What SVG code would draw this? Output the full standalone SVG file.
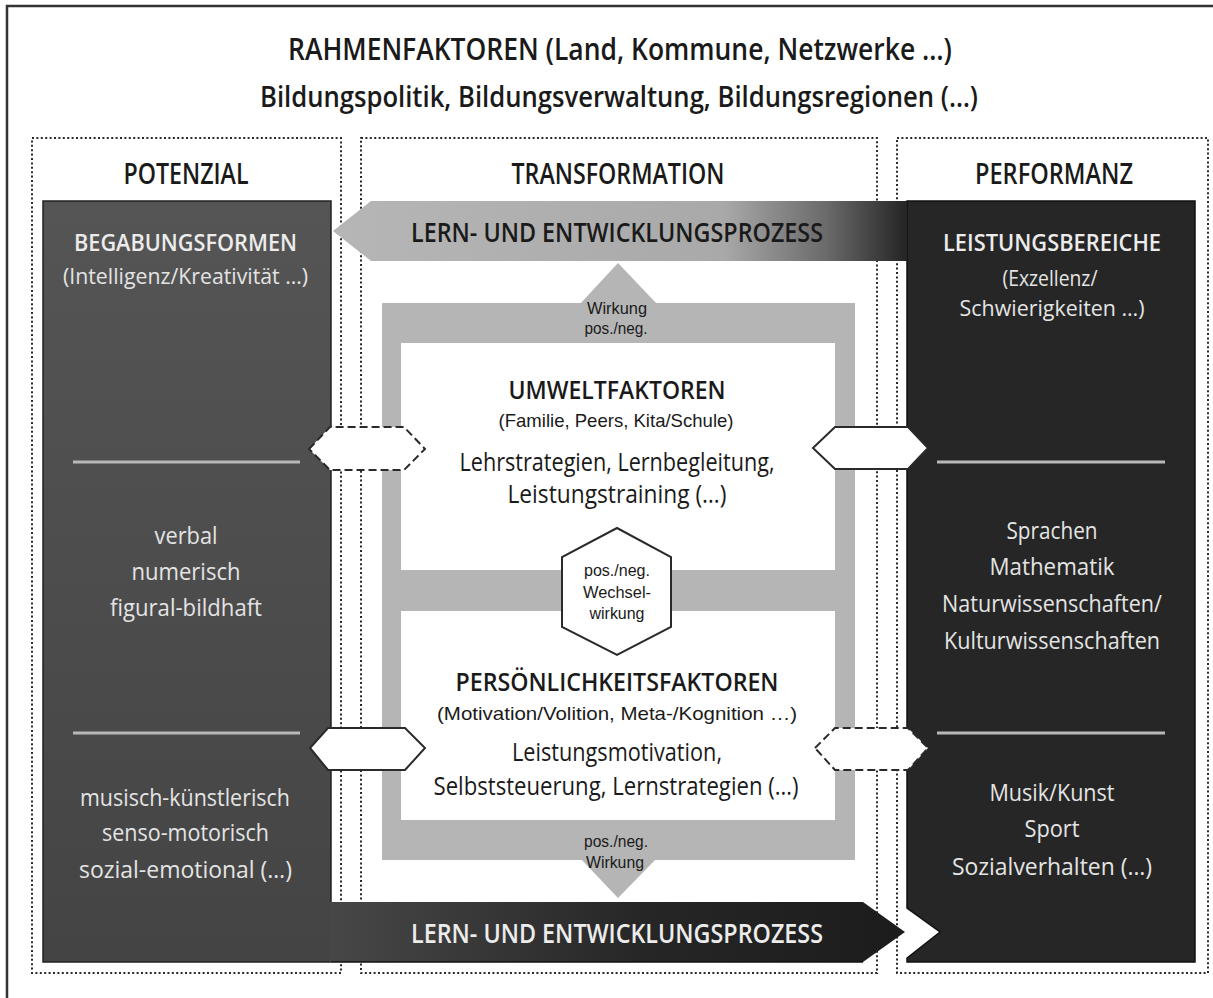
<svg xmlns="http://www.w3.org/2000/svg" width="1213" height="998" viewBox="0 0 1213 998">
<defs>
<style>
text{font-family:"Open Sans","Liberation Sans",sans-serif;text-anchor:middle;}
.h{font-weight:600;fill:#1a1a1a;}
.d{fill:#1a1a1a;}
.p{font-family:"Liberation Sans","Open Sans",sans-serif;fill:#1a1a1a;}
.l{fill:#e4e4e4;}
.lb{fill:#ececec;font-weight:600;}
.dot{fill:none;stroke:#2a2a2a;stroke-width:2;stroke-dasharray:2 2.4;}
.sep{stroke:#b8b8b8;stroke-width:3;}
.hx{fill:#fff;stroke:#2a2a2a;stroke-width:2;}
.hxd{fill:#fff;stroke:#2a2a2a;stroke-width:2;stroke-dasharray:8 4;}
.gr{fill:#b5b5b5;}
.sm{font-family:"Liberation Sans","Open Sans",sans-serif;font-size:16px;fill:#1a1a1a;}
</style>
<linearGradient id="gLeft" x1="0" y1="0" x2="0" y2="1">
<stop offset="0" stop-color="#555"/>
<stop offset="1" stop-color="#444"/>
</linearGradient>
<linearGradient id="gTop" gradientUnits="userSpaceOnUse" x1="333" y1="0" x2="907" y2="0">
<stop offset="0" stop-color="#b6b6b6"/>
<stop offset="0.68" stop-color="#a9a9a9"/>
<stop offset="0.86" stop-color="#6a6a6a"/>
<stop offset="1" stop-color="#242424"/>
</linearGradient>
<linearGradient id="gBot" gradientUnits="userSpaceOnUse" x1="331" y1="0" x2="905" y2="0">
<stop offset="0" stop-color="#474747"/>
<stop offset="0.55" stop-color="#262626"/>
<stop offset="1" stop-color="#1c1c1c"/>
</linearGradient>
</defs>
<rect width="1213" height="998" fill="#fff"/>
<rect x="7" y="6" width="1222" height="1010" fill="none" stroke="#333" stroke-width="2.5"/>

<g id="title">
<text class="h" x="620" y="60" font-size="31" textLength="664" lengthAdjust="spacingAndGlyphs">RAHMENFAKTOREN (Land, Kommune, Netzwerke …)</text>
<text class="h" x="619" y="107" font-size="28" textLength="718" lengthAdjust="spacingAndGlyphs">Bildungspolitik, Bildungsverwaltung, Bildungsregionen (…)</text>
</g>

<g id="columns">
<rect class="dot" x="32" y="138" width="309" height="835"/>
<rect class="dot" x="361" y="138" width="516" height="835"/>
<rect class="dot" x="897" y="138" width="311" height="835"/>
<text class="h" x="186" y="184" font-size="28" textLength="125" lengthAdjust="spacingAndGlyphs">POTENZIAL</text>
<text class="h" x="618" y="184" font-size="28" textLength="213" lengthAdjust="spacingAndGlyphs">TRANSFORMATION</text>
<text class="h" x="1054" y="184" font-size="28" textLength="158" lengthAdjust="spacingAndGlyphs">PERFORMANZ</text>
</g>

<g id="potenzial">
<path d="M331,902 V201 H43 V962 H331" fill="url(#gLeft)" stroke="#222" stroke-width="1.5"/>
<text class="lb" x="185.5" y="251" font-size="24" textLength="223" lengthAdjust="spacingAndGlyphs">BEGABUNGSFORMEN</text>
<text class="l" x="185.5" y="284" font-size="21" textLength="245" lengthAdjust="spacingAndGlyphs">(Intelligenz/Kreativität …)</text>
<line class="sep" x1="73" y1="462" x2="300" y2="462"/>
<text class="l" x="186" y="544" font-size="24" textLength="63" lengthAdjust="spacingAndGlyphs">verbal</text>
<text class="l" x="186" y="580" font-size="24" textLength="109" lengthAdjust="spacingAndGlyphs">numerisch</text>
<text class="l" x="186" y="616" font-size="24" textLength="152" lengthAdjust="spacingAndGlyphs">figural-bildhaft</text>
<line class="sep" x1="73" y1="733" x2="300" y2="733"/>
<text class="l" x="185" y="806" font-size="24" textLength="210" lengthAdjust="spacingAndGlyphs">musisch-künstlerisch</text>
<text class="l" x="185.5" y="841" font-size="24" textLength="167" lengthAdjust="spacingAndGlyphs">senso-motorisch</text>
<text class="l" x="185.5" y="878" font-size="24" textLength="213" lengthAdjust="spacingAndGlyphs">sozial-emotional (…)</text>
</g>

<g id="performanz">
<path d="M907,201 H1195 V962 H907 V958 L940,932 L907,908 Z" fill="#262626" stroke="#111" stroke-width="1.5"/>
<text class="lb" x="1052" y="251" font-size="24" textLength="218" lengthAdjust="spacingAndGlyphs">LEISTUNGSBEREICHE</text>
<text class="l" x="1050" y="286" font-size="21" textLength="95" lengthAdjust="spacingAndGlyphs">(Exzellenz/</text>
<text class="l" x="1052" y="316" font-size="21" textLength="185" lengthAdjust="spacingAndGlyphs">Schwierigkeiten …)</text>
<line class="sep" x1="937" y1="462" x2="1165" y2="462"/>
<text class="l" x="1052" y="539" font-size="24" textLength="91" lengthAdjust="spacingAndGlyphs">Sprachen</text>
<text class="l" x="1052" y="575" font-size="24" textLength="125" lengthAdjust="spacingAndGlyphs">Mathematik</text>
<text class="l" x="1052" y="612" font-size="24" textLength="220" lengthAdjust="spacingAndGlyphs">Naturwissenschaften/</text>
<text class="l" x="1052" y="649" font-size="24" textLength="216" lengthAdjust="spacingAndGlyphs">Kulturwissenschaften</text>
<line class="sep" x1="937" y1="733" x2="1165" y2="733"/>
<text class="l" x="1052" y="801" font-size="24" textLength="125" lengthAdjust="spacingAndGlyphs">Musik/Kunst</text>
<text class="l" x="1052" y="837" font-size="24" textLength="55" lengthAdjust="spacingAndGlyphs">Sport</text>
<text class="l" x="1052" y="875" font-size="24" textLength="200" lengthAdjust="spacingAndGlyphs">Sozialverhalten (…)</text>
</g>

<g id="transformation-frame">
<rect class="gr" x="382" y="303" width="473" height="557"/>
<polygon class="gr" points="580,304 618,263 657,304"/>
<polygon class="gr" points="581,859 656,859 618,898"/>
<text class="sm" x="617" y="314" textLength="60" lengthAdjust="spacingAndGlyphs">Wirkung</text>
<text class="sm" x="616" y="334" textLength="63" lengthAdjust="spacingAndGlyphs">pos./neg.</text>
<text class="sm" x="616" y="847" textLength="64" lengthAdjust="spacingAndGlyphs">pos./neg.</text>
<text class="sm" x="615" y="868" textLength="58" lengthAdjust="spacingAndGlyphs">Wirkung</text>
</g>

<g id="umweltfaktoren">
<rect x="401" y="343" width="434" height="227" fill="#fff"/>
<text class="h" x="617" y="399" font-size="26" textLength="217" lengthAdjust="spacingAndGlyphs">UMWELTFAKTOREN</text>
<text class="p" x="616" y="427" font-size="19" textLength="235" lengthAdjust="spacingAndGlyphs">(Familie, Peers, Kita/Schule)</text>
<text class="d" x="617" y="471" font-size="25" textLength="315" lengthAdjust="spacingAndGlyphs">Lehrstrategien, Lernbegleitung,</text>
<text class="d" x="617" y="503" font-size="25" textLength="219" lengthAdjust="spacingAndGlyphs">Leistungstraining (…)</text>
</g>

<g id="persoenlichkeitsfaktoren">
<rect x="401" y="611" width="434" height="209" fill="#fff"/>
<text class="h" x="617" y="691" font-size="26" textLength="323" lengthAdjust="spacingAndGlyphs">PERSÖNLICHKEITSFAKTOREN</text>
<text class="p" x="617" y="720" font-size="19" textLength="360" lengthAdjust="spacingAndGlyphs">(Motivation/Volition, Meta-/Kognition …)</text>
<text class="d" x="617" y="761" font-size="25" textLength="210" lengthAdjust="spacingAndGlyphs">Leistungsmotivation,</text>
<text class="d" x="616" y="795" font-size="25" textLength="365" lengthAdjust="spacingAndGlyphs">Selbststeuerung, Lernstrategien (…)</text>
</g>

<g id="wechselwirkung">
<polygon class="hx" points="617,528 671,557 671,627 617,655 562,627 562,557"/>
<text class="sm" x="617" y="576" textLength="66" lengthAdjust="spacingAndGlyphs">pos./neg.</text>
<text class="sm" x="617" y="598" textLength="68" lengthAdjust="spacingAndGlyphs">Wechsel-</text>
<text class="sm" x="617" y="619" textLength="55" lengthAdjust="spacingAndGlyphs">wirkung</text>
</g>

<g id="connectors">
<polygon points="333,231 371,201 907,201 907,261 371,261" fill="url(#gTop)"/>
<text class="h" x="617" y="242" font-size="27" textLength="412" lengthAdjust="spacingAndGlyphs">LERN- UND ENTWICKLUNGSPROZESS</text>
<polygon points="330,902 863,902 905,932 863,962 330,962" fill="url(#gBot)"/>
<line x1="331" y1="962" x2="863" y2="962" stroke="#111" stroke-width="1.5"/>
<text class="lb" x="617" y="943" font-size="27" textLength="412" lengthAdjust="spacingAndGlyphs">LERN- UND ENTWICKLUNGSPROZESS</text>
<polygon class="hxd" points="309,449 330,427 404,427 425,449 404,470 330,470"/>
<polygon class="hx" points="813,448 835,427 908,427 928,448 908,469 835,469"/>
<polygon class="hx" points="310,748 328,728 405,728 425,748 405,770 328,770"/>
<polygon class="hxd" points="815,748 835,728 908,728 928,748 908,770 835,770"/>
</g>
</svg>
